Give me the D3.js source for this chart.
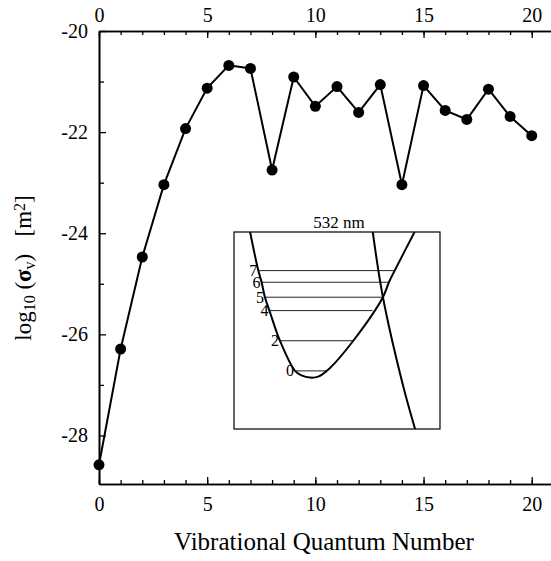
<!DOCTYPE html>
<html>
<head>
<meta charset="utf-8">
<script src="https://cdn.jsdelivr.net/npm/d3@7"></script>
<style>
  body { margin: 0; background: #fff; }
  svg { display: block; font-family: "Liberation Serif", "Times New Roman", serif; }
</style>
</head>
<body>
<div id="chart"></div>
<script>
// main series: log10 cross section vs vibrational quantum number
var quantumNumbers = d3.range(0, 21);
var logSigma = [-28.58, -26.29, -24.47, -23.04, -21.93, -21.13, -20.68, -20.74, -22.75, -20.91,
                -21.49, -21.10, -21.61, -21.06, -23.04, -21.08, -21.57, -21.75, -21.15, -21.69, -22.07];

var xMajorTicks = [0, 5, 10, 15, 20];
var yMajorTicks = [-28, -26, -24, -22, -20];
var yMinorTicks = [-27, -25, -23, -21];

// inset (schematic potentials, arbitrary units 0..10)
var wellX = [0.78, 1.18, 1.34, 1.50, 1.72, 2.23, 2.96, 3.28, 3.69, 4.09, 4.66, 5.79, 7.23, 7.52, 7.80, 8.79];
var wellY = [10.0, 8.04, 7.45, 6.69, 6.01, 4.48, 2.95, 2.72, 2.61, 2.66, 3.10, 4.48, 6.69, 7.45, 8.04, 10.05];
var repulsiveX = [6.73, 7.23, 8.20, 8.79];
var repulsiveY = [10.05, 6.69, 2.23, 0.0];
var levelLabels = ["0", "2", "4", "5", "6", "7"];
var levelEnergy = [2.95, 4.48, 6.01, 6.69, 7.45, 8.04];
var levelLeft = [2.96, 2.23, 1.72, 1.50, 1.34, 1.18];
var levelRight = [4.50, 5.79, 6.73, 7.23, 7.52, 7.78];

var width = 551, height = 561;
var margin = { top: 31, left: 99, bottom: 484 };

var svg = d3.select("#chart").append("svg")
    .attr("width", width)
    .attr("height", height);

var x = d3.scaleLinear().domain([0, 20.9]).range([margin.left, 551.2]);
var y = d3.scaleLinear().domain([-28.96, -20]).range([margin.bottom, margin.top]);

var fmt = d => String(d);

function styleAxis(g) {
    g.attr("font-family", null);
    g.selectAll("path.domain").attr("stroke", "#000").attr("stroke-width", 1.6);
    g.selectAll(".tick line").attr("stroke", "#000").attr("stroke-width", 1.3);
    g.selectAll("text").attr("fill", "#000")
        .style("font-family", "'Liberation Serif', 'Times New Roman', serif")
        .style("font-size", "20px");
}

// minor ticks (every integer on x, odd values on y)
svg.append("g")
    .attr("transform", `translate(0,${margin.bottom})`)
    .call(d3.axisBottom(x).tickValues(quantumNumbers).tickSize(-4).tickSizeOuter(0).tickFormat(""))
    .call(styleAxis);
svg.append("g")
    .attr("transform", `translate(0,${margin.top})`)
    .call(d3.axisTop(x).tickValues(quantumNumbers).tickSize(-4).tickSizeOuter(0).tickFormat(""))
    .call(styleAxis);
svg.append("g")
    .attr("transform", `translate(${margin.left},0)`)
    .call(d3.axisLeft(y).tickValues(yMinorTicks).tickSize(-5).tickSizeOuter(0).tickFormat(""))
    .call(styleAxis);

// major ticks with labels
svg.append("g")
    .attr("transform", `translate(0,${margin.bottom})`)
    .call(d3.axisBottom(x).tickValues(xMajorTicks).tickSize(-7).tickSizeOuter(0).tickPadding(13).tickFormat(fmt))
    .call(styleAxis);
svg.append("g")
    .attr("transform", `translate(0,${margin.top})`)
    .call(d3.axisTop(x).tickValues(xMajorTicks).tickSize(-7).tickSizeOuter(0).tickPadding(9).tickFormat(fmt))
    .call(styleAxis);
svg.append("g")
    .attr("transform", `translate(${margin.left},0)`)
    .call(d3.axisLeft(y).tickValues(yMajorTicks).tickSize(-7).tickSizeOuter(0).tickPadding(11).tickFormat(fmt))
    .call(styleAxis);

// x axis title
svg.append("text")
    .attr("x", 324)
    .attr("y", 550)
    .attr("text-anchor", "middle")
    .style("font-size", "25px")
    .text("Vibrational Quantum Number");

// y axis title
var yt = svg.append("text")
    .attr("transform", "translate(31,268) rotate(-90)")
    .attr("text-anchor", "middle")
    .style("font-size", "23px");
yt.append("tspan").text("log");
yt.append("tspan").attr("baseline-shift", "-25%").style("font-size", "16px").text("10");
yt.append("tspan").text("\u00a0(");
yt.append("tspan").style("font-weight", "bold").text("σ");
yt.append("tspan").attr("baseline-shift", "-25%").style("font-size", "16px").text("v");
yt.append("tspan").text(")\u00a0\u00a0\u00a0[m");
yt.append("tspan").attr("baseline-shift", "40%").style("font-size", "16px").text("2");
yt.append("tspan").text("]");

// data line + markers
var pts = quantumNumbers.map((v, i) => [v, logSigma[i]]);
svg.append("path")
    .datum(pts)
    .attr("fill", "none")
    .attr("stroke", "#000")
    .attr("stroke-width", 2)
    .attr("d", d3.line().x(d => x(d[0])).y(d => y(d[1])));
svg.append("g").selectAll("circle")
    .data(pts)
    .join("circle")
    .attr("cx", d => x(d[0]))
    .attr("cy", d => y(d[1]))
    .attr("r", 5.5)
    .attr("fill", "#000");

// ---- inset ----
var box = { x0: 234, x1: 440, y0: 232, y1: 429 };
var ix = d3.scaleLinear().domain([0, 10]).range([box.x0, box.x1]);
var iy = d3.scaleLinear().domain([0, 10]).range([box.y1, box.y0]);

var inset = svg.append("g");
inset.append("clipPath").attr("id", "insetClip")
    .append("rect")
    .attr("x", box.x0).attr("y", box.y0)
    .attr("width", box.x1 - box.x0).attr("height", box.y1 - box.y0);

inset.append("rect")
    .attr("x", box.x0).attr("y", box.y0)
    .attr("width", box.x1 - box.x0).attr("height", box.y1 - box.y0)
    .attr("fill", "#fff")
    .attr("stroke", "#000")
    .attr("stroke-width", 1.2);

inset.append("text")
    .attr("x", (box.x0 + box.x1) / 2 + 2)
    .attr("y", box.y0 - 4)
    .attr("text-anchor", "middle")
    .style("font-size", "17px")
    .text("532 nm");

// vibrational levels
inset.append("g").selectAll("line")
    .data(levelLabels)
    .join("line")
    .attr("x1", (d, i) => ix(levelLeft[i]))
    .attr("x2", (d, i) => ix(levelRight[i]))
    .attr("y1", (d, i) => iy(levelEnergy[i]))
    .attr("y2", (d, i) => iy(levelEnergy[i]))
    .attr("stroke", "#222")
    .attr("stroke-width", 1);
inset.append("g").selectAll("text")
    .data(levelLabels)
    .join("text")
    .attr("x", (d, i) => ix(levelLeft[i]) - 1)
    .attr("y", (d, i) => iy(levelEnergy[i]))
    .attr("dy", "0.35em")
    .attr("text-anchor", "end")
    .style("font-size", "16px")
    .text(d => d);

var curveLine = d3.line().x(d => ix(d[0])).y(d => iy(d[1])).curve(d3.curveCatmullRom);
var curves = inset.append("g").attr("clip-path", "url(#insetClip)");
curves.append("path")
    .datum(wellX.map((v, i) => [v, wellY[i]]))
    .attr("fill", "none").attr("stroke", "#000").attr("stroke-width", 2)
    .attr("d", curveLine);
curves.append("path")
    .datum(repulsiveX.map((v, i) => [v, repulsiveY[i]]))
    .attr("fill", "none").attr("stroke", "#000").attr("stroke-width", 2)
    .attr("d", curveLine);
</script>
</body>
</html>
